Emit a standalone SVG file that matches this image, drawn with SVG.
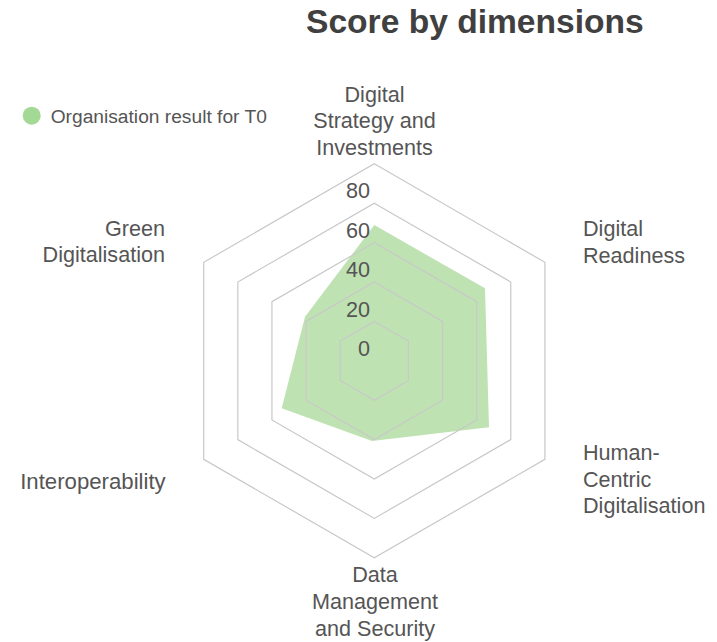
<svg xmlns="http://www.w3.org/2000/svg" width="717" height="642" viewBox="0 0 717 642">
<style>
  .ring { fill: none; stroke: #c8c8c8; stroke-width: 1.2; }
  .lbl { font-family: "Liberation Sans", Arial, sans-serif; font-size: 21.6px; fill: #555555; }
  .tick { font-family: "Liberation Sans", Arial, sans-serif; font-size: 21.6px; fill: #555555; text-anchor: end; }
  .mid { text-anchor: middle; }
  .end { text-anchor: end; }
</style>
<rect width="717" height="642" fill="#ffffff"/>
<text x="306" y="33" font-family="Liberation Sans, Arial, sans-serif" font-size="33.6" font-weight="bold" fill="#404040">Score by dimensions</text>
<g id="legend">
  <circle cx="31.7" cy="115.7" r="9" fill="#a3d895"/>
  <text x="50.7" y="123.3" font-family="Liberation Sans, Arial, sans-serif" font-size="19.2" fill="#555555">Organisation result for T0</text>
</g>
<g id="data">
  <polygon points="374.3,225 485,288.3 489,427.3 372,441 281.7,408.3 305,316.7" fill="#bfe2b3"/>
</g>
<g id="grid">
  <polygon class="ring" points="374.3,321.4 408.42,341.1 408.42,380.5 374.3,400.2 340.18,380.5 340.18,341.1"/>
  <polygon class="ring" points="374.3,282 442.54,321.4 442.54,400.2 374.3,439.6 306.06,400.2 306.06,321.4"/>
  <polygon class="ring" points="374.3,242.6 476.66,301.7 476.66,419.9 374.3,479 271.94,419.9 271.94,301.7"/>
  <polygon class="ring" points="374.3,203.2 510.78,282 510.78,439.6 374.3,518.4 237.82,439.6 237.82,282"/>
  <polygon class="ring" points="374.3,163.8 544.9,262.3 544.9,459.3 374.3,557.8 203.7,459.3 203.7,262.3"/>
</g>
<g id="ticks">
  <text class="tick" x="370" y="198.3">80</text>
  <text class="tick" x="370" y="237.7">60</text>
  <text class="tick" x="370" y="277.1">40</text>
  <text class="tick" x="370" y="316.5">20</text>
  <text class="tick" x="370" y="355.9">0</text>
</g>
<g id="axis-strategy">
  <text class="lbl mid" x="374.5" y="101.7">Digital</text>
  <text class="lbl mid" x="374.5" y="128.3">Strategy and</text>
  <text class="lbl mid" x="374.5" y="155">Investments</text>
</g>
<g id="axis-readiness">
  <text class="lbl" x="583" y="236">Digital</text>
  <text class="lbl" x="583" y="262.7">Readiness</text>
</g>
<g id="axis-human">
  <text class="lbl" x="583" y="460">Human-</text>
  <text class="lbl" x="583" y="486.7">Centric</text>
  <text class="lbl" x="583" y="513.3">Digitalisation</text>
</g>
<g id="axis-data">
  <text class="lbl mid" x="375" y="582.3">Data</text>
  <text class="lbl mid" x="375" y="609.3">Management</text>
  <text class="lbl mid" x="375" y="636">and Security</text>
</g>
<g id="axis-interop">
  <text class="lbl end" x="165.7" y="489.3" style="font-size:22.2px">Interoperability</text>
</g>
<g id="axis-green">
  <text class="lbl end" x="165" y="235.7">Green</text>
  <text class="lbl end" x="165" y="262.3">Digitalisation</text>
</g>
</svg>
